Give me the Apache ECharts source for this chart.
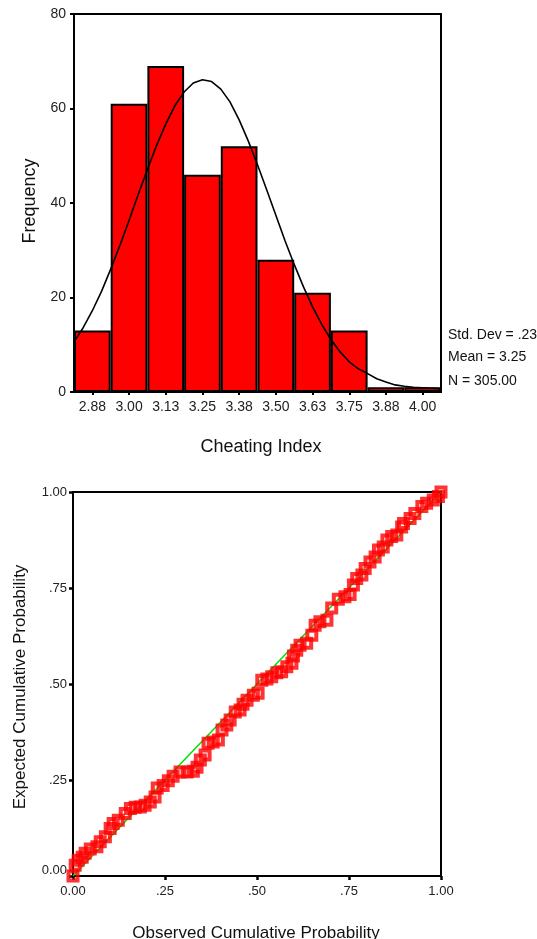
<!DOCTYPE html>
<html>
<head>
<meta charset="utf-8">
<script src="https://cdn.jsdelivr.net/npm/echarts@6/dist/echarts.min.js"></script>
<style>
  html, body { margin: 0; padding: 0; background: #fff; }
  #chart { width: 537px; height: 939px; }
</style>
</head>
<body>
<div id="chart"></div>
<script>
// histogram of cheating index
const binLabels = ['2.88', '3.00', '3.13', '3.25', '3.38', '3.50', '3.63', '3.75', '3.88', '4.00'];
const binCounts = [13, 61, 69, 46, 52, 28, 21, 13, 1, 1];
const freqTicks = [0, 20, 40, 60, 80];

// normal curve
const curveX = [2.8125, 2.84375, 2.875, 2.90625, 2.9375, 2.96875, 3.0, 3.03125, 3.0625, 3.09375,
  3.125, 3.15625, 3.1875, 3.21875, 3.25, 3.28125, 3.3125, 3.34375, 3.375, 3.40625,
  3.4375, 3.46875, 3.5, 3.53125, 3.5625, 3.59375, 3.625, 3.65625, 3.6875, 3.71875,
  3.75, 3.78125, 3.8125, 3.84375, 3.875, 3.90625, 3.9375, 3.96875, 4.0, 4.03125, 4.0625];
const curveY = [10.6, 13.6, 17.2, 21.3, 26.0, 31.0, 36.3, 41.8, 47.1, 52.2,
  56.7, 60.6, 63.5, 65.4, 66.1, 65.7, 64.1, 61.4, 57.6, 53.1,
  48.1, 42.8, 37.4, 32.0, 27.0, 22.3, 18.0, 14.3, 11.1, 8.5,
  6.4, 4.9, 3.9, 2.8, 2.1, 1.5, 1.2, 1.0, 0.9, 0.8, 0.7];

const statLines = ['Std. Dev = .23', 'Mean = 3.25', 'N = 305.00'];

// P-P plot
const observedP = [0.000, 0.006, 0.014, 0.025, 0.033, 0.047, 0.065, 0.074, 0.088, 0.101,
  0.109, 0.123, 0.142, 0.156, 0.169, 0.183, 0.196, 0.210, 0.223, 0.229,
  0.245, 0.259, 0.272, 0.291, 0.310, 0.327, 0.337, 0.346, 0.359, 0.367,
  0.381, 0.395, 0.405, 0.418, 0.427, 0.441, 0.454, 0.462, 0.473, 0.490,
  0.503, 0.513, 0.527, 0.540, 0.554, 0.567, 0.581, 0.595, 0.599, 0.608,
  0.617, 0.635, 0.649, 0.658, 0.671, 0.690, 0.703, 0.721, 0.739, 0.753,
  0.762, 0.771, 0.785, 0.794, 0.807, 0.821, 0.830, 0.843, 0.853, 0.866,
  0.880, 0.893, 0.898, 0.916, 0.929, 0.948, 0.961, 0.979, 0.993, 1.000];
const expectedP = [0.000, 0.028, 0.041, 0.049, 0.059, 0.070, 0.076, 0.089, 0.102, 0.124,
  0.137, 0.145, 0.163, 0.176, 0.179, 0.180, 0.184, 0.193, 0.206, 0.229,
  0.236, 0.248, 0.260, 0.271, 0.271, 0.273, 0.283, 0.302, 0.315, 0.346,
  0.349, 0.354, 0.380, 0.393, 0.406, 0.427, 0.432, 0.447, 0.458, 0.471,
  0.476, 0.510, 0.513, 0.519, 0.529, 0.532, 0.545, 0.554, 0.573, 0.588,
  0.601, 0.606, 0.627, 0.653, 0.662, 0.666, 0.698, 0.721, 0.727, 0.733,
  0.758, 0.775, 0.784, 0.801, 0.818, 0.831, 0.849, 0.857, 0.875, 0.884,
  0.888, 0.909, 0.918, 0.931, 0.944, 0.962, 0.971, 0.979, 0.988, 1.000];
const probTickLabels = {0: '0.00', 0.25: '.25', 0.5: '.50', 0.75: '.75', 1: '1.00'};

const font = "'Liberation Sans', Arial, sans-serif";
const chart = echarts.init(document.getElementById('chart'));

function axisStyle() {
    return {
        axisLine: { show: true, lineStyle: { color: '#000', width: 2 } },
        splitLine: { show: false },
    };
}

const option = {
    animation: false,
    grid: [
        { left: 74, top: 14, width: 367, height: 378, show: true, borderColor: '#000', borderWidth: 2 },
        { left: 73, top: 492, width: 368, height: 384, show: true, borderColor: '#000', borderWidth: 2 },
    ],
    xAxis: [
        {
            gridIndex: 0, type: 'category', data: binLabels, boundaryGap: true,
            ...axisStyle(),
            axisTick: { show: true, alignWithLabel: true, length: 3, lineStyle: { color: '#000', width: 2 } },
            axisLabel: { color: '#222', fontSize: 14, fontFamily: font, margin: 8 },
        },
        { gridIndex: 0, type: 'value', min: 2.8125, max: 4.0625, show: false },
        {
            gridIndex: 1, type: 'value', min: 0, max: 1, interval: 0.25,
            ...axisStyle(),
            axisTick: { show: true, length: 4, lineStyle: { color: '#000', width: 2.5 } },
            axisLabel: { color: '#222', fontSize: 13, fontFamily: font, margin: 9,
                formatter: v => probTickLabels[v] },
        },
    ],
    yAxis: [
        {
            gridIndex: 0, type: 'value', min: freqTicks[0], max: freqTicks[freqTicks.length - 1], interval: 20,
            ...axisStyle(),
            axisTick: { show: true, length: 4, lineStyle: { color: '#000', width: 2 } },
            axisLabel: { color: '#222', fontSize: 14, fontFamily: font, margin: 8 },
        },
        {
            gridIndex: 1, type: 'value', min: 0, max: 1, interval: 0.25,
            ...axisStyle(),
            axisTick: { show: true, length: 4, lineStyle: { color: '#000', width: 2.5 } },
            axisLabel: { color: '#222', fontSize: 13, fontFamily: font, margin: 6,
                // the 0.00 label sits a little above its tick
                formatter: v => v === 0 ? '{lo|0.00}' : probTickLabels[v],
                rich: { lo: { fontSize: 13, fontFamily: font, color: '#222', padding: [0, 0, 11, 0] } } },
        },
    ],
    series: [
        {
            type: 'bar', xAxisIndex: 0, yAxisIndex: 0,
            data: binCounts,
            barCategoryGap: '0%',
            itemStyle: { color: '#ff0000', borderColor: '#000', borderWidth: 2 },
            z: 2,
        },
        {
            type: 'line', xAxisIndex: 1, yAxisIndex: 0,
            data: curveX.map((x, i) => [x, curveY[i]]),
            showSymbol: false,
            lineStyle: { color: '#000', width: 1.6 },
            z: 3,
        },
        {
            type: 'line', xAxisIndex: 2, yAxisIndex: 1,
            data: [[0, 0], [1, 1]],
            showSymbol: false,
            lineStyle: { color: '#00e000', width: 1.5 },
            z: 2,
        },
        {
            type: 'scatter', xAxisIndex: 2, yAxisIndex: 1,
            data: observedP.map((x, i) => [x, expectedP[i]]),
            symbol: 'rect', symbolSize: 9,
            itemStyle: { color: 'rgba(255,0,0,0)', borderColor: '#ff0000', borderWidth: 4 },
            z: 3,
        },
    ],
    graphic: [
        { type: 'text', x: 261, y: 447, style: { text: 'Cheating Index', font: '18px ' + font, fill: '#111', textAlign: 'center', textVerticalAlign: 'middle' } },
        { type: 'text', x: 30, y: 201, rotation: Math.PI / 2, style: { text: 'Frequency', font: '18px ' + font, fill: '#111', textAlign: 'center', textVerticalAlign: 'middle' } },
        { type: 'text', x: 448, y: 335, style: { text: statLines[0], font: '14px ' + font, fill: '#111', textVerticalAlign: 'middle' } },
        { type: 'text', x: 448, y: 357, style: { text: statLines[1], font: '14px ' + font, fill: '#111', textVerticalAlign: 'middle' } },
        { type: 'text', x: 448, y: 381, style: { text: statLines[2], font: '14px ' + font, fill: '#111', textVerticalAlign: 'middle' } },
        { type: 'text', x: 256, y: 933, style: { text: 'Observed Cumulative Probability', font: '17px ' + font, fill: '#111', textAlign: 'center', textVerticalAlign: 'middle' } },
        { type: 'text', x: 20, y: 687, rotation: Math.PI / 2, style: { text: 'Expected Cumulative Probability', font: '17px ' + font, fill: '#111', textAlign: 'center', textVerticalAlign: 'middle' } },
    ],
};

chart.setOption(option);
</script>
</body>
</html>
